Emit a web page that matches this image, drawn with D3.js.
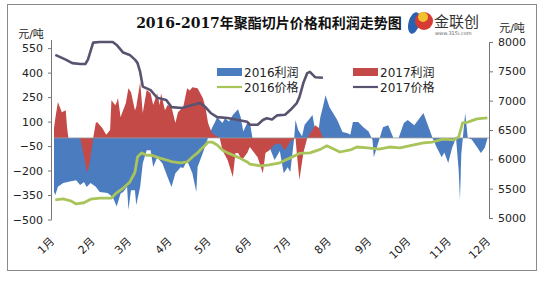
<!DOCTYPE html>
<html>
<head>
<meta charset="utf-8">
<script src="https://cdn.jsdelivr.net/npm/d3@7"></script>
<style>
  body { margin: 0; background: #fff; }
  text { font-family: "DejaVu Sans", "Noto Sans CJK SC", sans-serif; }
</style>
</head>
<body>
<div id="chart"></div>
<script>
// day of year
const months = ["1月","2月","3月","4月","5月","6月","7月","8月","9月","10月","11月","12月"];
const monthStart = [0,31,59,90,120,151,181,212,243,273,304,334];

const leftTicks = [-500,-350,-200,-50,100,250,400,550];
const rightTicks = [5000,5500,6000,6500,7000,7500,8000];

// 2016 profit (元/吨)
const profitDays2016 = [0,1,3,7,13,17,20,23,25,28,32,35,41,45,48,51,53,56,57,59,62,63,66,68,71,74,76,79,83,87,90,93,97,99,102,106,109,110,114,118,121,123,125,129,131,134,137,141,143,145,148,150,152,156,160,165,169,173,176,179,181,184,185,187,190,192,195,198,200,202,204,206,208,211,214,217,221,225,227,229,233,237,241,244,245,248,252,256,260,264,268,271,276,280,283,287,290,293,297,299,302,305,308,310,311,312,315,317,320,324,327,330,332];
const profit2016 = [-330,-350,-300,-277,-265,-259,-289,-270,-301,-277,-300,-332,-338,-362,-420,-340,-332,-300,-440,-320,-320,-411,-301,-155,-75,-75,-178,-120,-155,-240,-301,-216,-180,-185,-140,-216,-332,-178,-93,0,60,91,127,91,121,100,140,176,127,40,91,97,0,-60,-40,-56,-136,-80,-216,-180,-209,0,109,50,10,80,109,140,48,5,127,189,262,189,150,109,36,28,20,97,97,66,40,-13,-118,-40,66,78,0,0,91,109,78,121,152,66,0,-56,-118,-90,-154,-60,0,-200,-381,-100,152,0,-10,-56,-93,-60,-5];

// 2017 profit (元/吨)
const profitDays2017 = [0,1,3,6,9,10,11,20,22,25,26,28,30,32,33,37,40,43,44,47,48,49,51,52,55,57,59,62,63,66,68,71,74,76,79,81,82,85,87,90,93,95,99,102,104,106,110,114,116,118,121,127,129,133,137,139,141,144,148,150,156,160,162,165,169,173,177,181,185,186,188,191,194,198,200,203,206];
const profit2017 = [60,120,220,158,170,66,0,0,-75,-197,-209,-118,0,91,97,60,20,48,231,200,219,244,127,150,213,305,280,170,190,342,152,293,274,201,274,201,274,170,201,189,91,158,189,305,290,311,305,244,189,91,29,0,-75,-136,-240,-93,-93,-136,-93,-56,-118,-216,-93,-75,-40,-32,-75,-20,0,-93,-258,-93,0,48,78,60,0];

// 2016 price (元/吨)
const priceDays2016 = [1,7,13,17,23,28,35,44,48,53,58,62,64,67,71,75,81,86,91,97,102,106,110,112,116,118,121,125,129,133,137,142,148,150,158,165,173,181,188,196,204,209,219,227,232,240,249,257,265,272,283,290,298,306,310,313,317,324,332];
const price2016 = [5310,5325,5290,5240,5260,5320,5340,5340,5430,5510,5610,5780,6040,6110,6070,6070,6020,5990,5955,5940,5955,6040,6110,6160,6245,6295,6295,6245,6160,6110,6075,6025,5955,5920,5890,5905,5940,6025,6100,6110,6170,6230,6125,6160,6210,6195,6175,6210,6195,6230,6280,6295,6345,6330,6380,6620,6635,6690,6705];

// 2017 price (元/吨)
const priceDays2017 = [1,9,14,20,24,26,30,35,45,48,53,58,62,64,66,68,74,79,86,90,98,106,112,116,120,125,133,141,148,150,156,160,163,167,171,177,181,186,188,191,194,196,200,206];
const price2017 = [7780,7700,7640,7625,7625,7700,7990,8000,8000,7950,7820,7780,7700,7640,7490,7240,7180,7050,7010,6890,6875,6925,6960,6890,6790,6720,6705,6670,6640,6590,6590,6670,6700,6680,6750,6760,6840,6960,7060,7300,7470,7490,7400,7390];

const W = 544, H = 281;
const colBlue = "#4a7cbf", colRed = "#c44a48", colGreen = "#a8c45a", colDark = "#5a5370";

const svg = d3.select("#chart").append("svg")
    .attr("width", W).attr("height", H);

svg.append("rect").attr("width", W).attr("height", H).attr("fill", "#fff");
svg.append("rect")
    .attr("x", 7.5).attr("y", 4.5).attr("width", 529).attr("height", 266)
    .attr("fill", "none").attr("stroke", "#8a8a8a").attr("stroke-width", 1);

let x = d3.scaleLinear().domain([0, 334]).range([54, 490]);
let yL = d3.scaleLinear().domain([-500, 600]).range([219.5, 40]);
let yR = d3.scaleLinear().domain([5000, 8000]).range([218, 42]);

function zip(days, vals) {
    return days.map(function(d, i) { return {d: d, v: vals[i]}; });
}

let area = d3.area()
    .x(function(p) { return x(p.d); })
    .y0(yL(0))
    .y1(function(p) { return yL(p.v); });

svg.append("path").datum(zip(profitDays2016, profit2016))
    .attr("d", area).attr("fill", colBlue);
svg.append("path").datum(zip(profitDays2017, profit2017))
    .attr("d", area).attr("fill", colRed);

// zero line
svg.append("line")
    .attr("x1", x(0)).attr("x2", 489)
    .attr("y1", yL(0)).attr("y2", yL(0))
    .attr("stroke", "#9a9a9a").attr("stroke-width", 0.8);

let priceLine = d3.line()
    .x(function(p) { return x(p.d); })
    .y(function(p) { return yR(p.v); });

svg.append("path").datum(zip(priceDays2016, price2016))
    .attr("d", priceLine).attr("fill", "none")
    .attr("stroke", colGreen).attr("stroke-width", 2.8).attr("stroke-linejoin", "round");
svg.append("path").datum(zip(priceDays2017, price2017))
    .attr("d", priceLine).attr("fill", "none")
    .attr("stroke", colDark).attr("stroke-width", 2.6).attr("stroke-linejoin", "round");

// left axis
let axL = svg.append("g")
    .attr("transform", "translate(52,0)")
    .call(d3.axisLeft(yL).tickValues(leftTicks).tickSize(4).tickPadding(5).tickFormat(d3.format("d")));
axL.select(".domain").attr("d", "M-0.5," + yL(-500) + "V40").attr("stroke", "#777");
axL.selectAll(".tick line").attr("stroke", "#777");
axL.selectAll("text").style("font-size", "11px").attr("fill", "#222");

// right axis
let axR = svg.append("g")
    .attr("transform", "translate(489,0)")
    .call(d3.axisRight(yR).tickValues(rightTicks).tickSize(4).tickPadding(5).tickFormat(d3.format("d")));
axR.select(".domain").attr("d", "M0.5," + yR(8000) + "V" + yR(5000)).attr("stroke", "#777");
axR.selectAll(".tick line").attr("stroke", "#777");
axR.selectAll("text").style("font-size", "11px").attr("fill", "#222");

// unit labels
svg.append("text").attr("x", 31).attr("y", 38).attr("text-anchor", "middle")
    .style("font-size", "11px").attr("fill", "#222").text("元/吨");
svg.append("text").attr("x", 512).attr("y", 32).attr("text-anchor", "middle")
    .style("font-size", "11px").attr("fill", "#222").text("元/吨");

// month labels
svg.selectAll(".mlab").data(months).enter()
    .append("text")
    .attr("class", "mlab")
    .attr("transform", function(m, i) {
        return "translate(" + (x(monthStart[i]) + 1) + ",242) rotate(-45)";
    })
    .attr("text-anchor", "end")
    .style("font-size", "11px")
    .attr("fill", "#222")
    .text(function(m) { return m; });

// title
svg.append("text").attr("x", 269).attr("y", 28).attr("text-anchor", "middle")
    .style("font-family", "'DejaVu Serif', 'Noto Sans CJK SC', serif")
    .style("font-size", "14px").style("font-weight", "bold").attr("fill", "#111")
    .text("2016-2017年聚酯切片价格和利润走势图");

// logo
let logo = svg.append("g");
logo.append("ellipse").attr("cx", 414).attr("cy", 23).attr("rx", 5.5).attr("ry", 11)
    .attr("transform", "rotate(15,414,23)").attr("fill", "#2b62b0");
logo.append("circle").attr("cx", 424).attr("cy", 21).attr("r", 9).attr("fill", "#d63c35");
logo.append("circle").attr("cx", 423).attr("cy", 17).attr("r", 5).attr("fill", "#f2c12e");
logo.append("text").attr("x", 434).attr("y", 27)
    .style("font-size", "15px").attr("fill", "#333").text("金联创");
logo.append("text").attr("x", 435).attr("y", 35)
    .style("font-size", "5px").attr("fill", "#666").text("www.315i.com");

// legend
const legendItems = [
    {name: "2016利润", type: "rect", color: colBlue, x: 217, y: 72},
    {name: "2017利润", type: "rect", color: colRed, x: 353, y: 72},
    {name: "2016价格", type: "line", color: colGreen, x: 217, y: 87},
    {name: "2017价格", type: "line", color: colDark, x: 353, y: 87}
];
let leg = svg.selectAll(".leg").data(legendItems).enter().append("g")
    .attr("transform", function(d) { return "translate(" + d.x + "," + d.y + ")"; });
leg.each(function(d) {
    let g = d3.select(this);
    if (d.type === "rect") {
        g.append("rect").attr("x", 0).attr("y", -4).attr("width", 25).attr("height", 8).attr("fill", d.color);
    } else {
        g.append("line").attr("x1", 0).attr("x2", 25).attr("y1", 0).attr("y2", 0)
            .attr("stroke", d.color).attr("stroke-width", 2.2);
    }
    g.append("text").attr("x", 27).attr("y", 4.5)
        .style("font-size", "12px").attr("fill", "#222").text(d.name);
});
</script>
</body>
</html>
